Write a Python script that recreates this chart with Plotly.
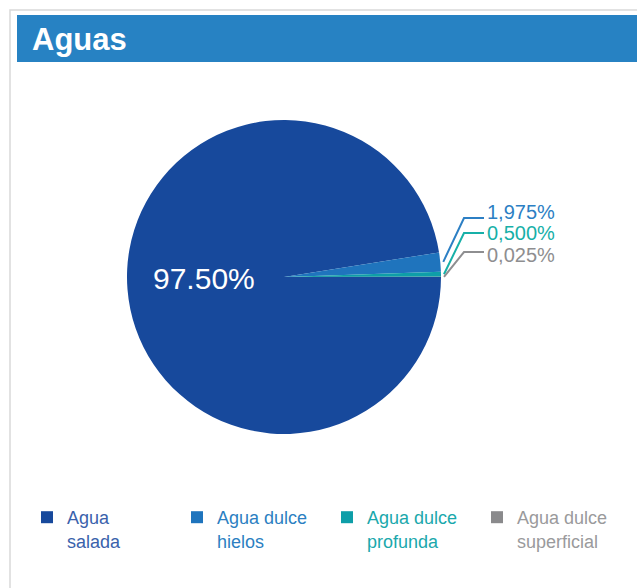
import math
import plotly.graph_objects as go

# Distribution of the planet's water
categories = ["Agua salada", "Agua dulce hielos", "Agua dulce profunda", "Agua dulce superficial"]
legend_lines = [["Agua", "salada"], ["Agua dulce", "hielos"], ["Agua dulce", "profunda"], ["Agua dulce", "superficial"]]
shares = [97.5, 1.975, 0.5, 0.025]

slice_colors = ["#17499c", "#1f74bd", "#0e9ea8", "#8a8a8c"]
legend_text_colors = ["#3a62ac", "#2c7fc2", "#1aa8ac", "#9a9a9c"]
callout_colors = ["#2c7fc4", "#17b0a8", "#8e8e90"]

W, H = 637, 588
CX, CY, R = 284, 277, 157  # pie centre and radius in pixels
FONT = "Liberation Sans, Arial, sans-serif"


def px(x):
    return x / W


def py(y):
    return 1 - y / H


legend_labels = [
    "<br>".join(f'<span style="color:{c}">{t}</span>' for t in lines)
    for lines, c in zip(legend_lines, legend_text_colors)
]

fig = go.Figure(
    go.Pie(
        labels=legend_labels,
        values=shares,
        textinfo="none",
        marker=dict(colors=slice_colors, line=dict(width=0)),
        sort=False,
        direction="clockwise",
        rotation=90,
        hoverinfo="skip",
        domain=dict(x=[px(CX - R), px(CX + R)], y=[py(CY + R), py(CY - R)]),
    )
)

shapes = [
    # card outline
    dict(type="rect", xref="paper", yref="paper", x0=px(10), x1=px(W + 5), y0=py(H + 5), y1=py(10),
         line=dict(color="#d9d9d9", width=1.5), fillcolor="rgba(0,0,0,0)", layer="below"),
    # header band
    dict(type="rect", xref="paper", yref="paper", x0=px(17), x1=px(W + 5), y0=py(62), y1=py(15),
         line=dict(width=0), fillcolor="#2782c3", layer="below"),
]

# share of the large slice, written inside it
annotations = [
    dict(xref="paper", yref="paper", x=px(204), y=py(278), xanchor="center", yanchor="middle",
         showarrow=False, text=f"{shares[0]:.2f}%", font=dict(family=FONT, size=30, color="white"))
]

# leader lines for the small slices, anchored at the middle of each slice
total = sum(shares)
elbow_y = [218, 233, 252]
callout_lines = []
cum = shares[0]
for i, v in enumerate(shares[1:]):
    a0 = cum / total * 360
    a1 = (cum + v) / total * 360
    cum += v
    mid = math.radians(90 + (a0 + a1) / 2)
    sx = CX + (R + 3) * math.sin(mid)
    sy = CY - (R + 3) * math.cos(mid)
    col = callout_colors[i]
    shapes.append(dict(type="path", xref="paper", yref="paper",
                       path=f"M {px(sx)},{py(sy)} L {px(464)},{py(elbow_y[i])} L {px(484)},{py(elbow_y[i])}",
                       line=dict(color=col, width=2)))
    callout_lines.append(
        f'<span style="color:{col};font-size:20px">' + f"{v:.3f}".replace(".", ",") + "%</span>"
    )

# the three call-out values stacked in one text block
annotations.append(dict(xref="paper", yref="paper", x=px(485), y=py(233),
                        xanchor="left", yanchor="middle", align="left", showarrow=False,
                        text="<br>".join(callout_lines),
                        font=dict(family=FONT, size=16.4, color=callout_colors[0])))

fig.update_layout(
    width=W,
    height=H,
    autosize=False,
    margin=dict(l=0, r=0, t=0, b=0),
    paper_bgcolor="white",
    plot_bgcolor="white",
    title=dict(text="<b>Aguas</b>", x=px(32), xanchor="left", y=py(39), yanchor="middle",
               font=dict(family=FONT, size=31, color="white")),
    shapes=shapes,
    annotations=annotations,
    showlegend=True,
    legend=dict(orientation="h", x=px(27), y=py(499), xanchor="left", yanchor="top",
                valign="top", entrywidth=105, entrywidthmode="pixels", traceorder="normal",
                font=dict(family=FONT, size=18, color="#444"),
                bgcolor="rgba(0,0,0,0)"),
)

fig.write_html("out.html")
